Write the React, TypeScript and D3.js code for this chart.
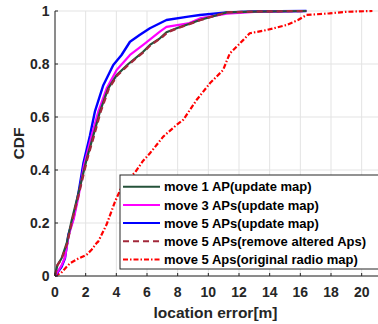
import React from "react";
import * as d3 from "d3";

const xTicks = [0, 2, 4, 6, 8, 10, 12, 14, 16, 18, 20];
const yTicks = [0, 0.2, 0.4, 0.6, 0.8, 1];

const blueX = [0, 0.43, 0.65, 0.87, 1.2, 1.52, 1.85, 2.28, 2.6, 3.15, 3.8, 4.34, 4.89, 5.54, 6.19, 7.27, 8.69, 9.45, 11.2, 13, 16.4];
const blueY = [0, 0.035, 0.067, 0.155, 0.218, 0.31, 0.425, 0.53, 0.62, 0.72, 0.796, 0.834, 0.884, 0.91, 0.935, 0.966, 0.979, 0.985, 0.995, 0.998, 1];

const magX = [0, 0.43, 0.65, 0.9, 1.22, 1.55, 1.9, 2.39, 2.82, 3.37, 4.02, 4.89, 5.75, 6.84, 7.27, 8.69, 9.45, 11.2, 13, 16.4];
const magY = [0, 0.04, 0.07, 0.155, 0.215, 0.305, 0.42, 0.53, 0.62, 0.708, 0.777, 0.834, 0.872, 0.922, 0.94, 0.953, 0.972, 0.99, 0.997, 1];

const greenX = [0, 0.15, 0.43, 0.76, 1.09, 1.52, 2.06, 2.5, 2.93, 3.47, 4.02, 4.78, 5.75, 6.19, 6.84, 7.27, 7.93, 8.69, 9.45, 11.2, 13, 16.4];
const greenY = [0, 0.04, 0.067, 0.123, 0.21, 0.31, 0.44, 0.53, 0.62, 0.708, 0.758, 0.8, 0.846, 0.872, 0.897, 0.92, 0.935, 0.95, 0.966, 0.995, 0.998, 1];

const brownX = [0, 0.15, 0.45, 0.8, 1.12, 1.56, 2.1, 2.55, 2.98, 3.52, 4.08, 4.85, 5.8, 6.25, 6.9, 7.35, 8.0, 8.75, 9.5, 11.2, 13, 16.4];
const brownY = [0, 0.04, 0.067, 0.123, 0.21, 0.31, 0.44, 0.53, 0.62, 0.708, 0.758, 0.8, 0.846, 0.872, 0.897, 0.92, 0.935, 0.95, 0.966, 0.995, 0.998, 1];

const redX = [0, 0.4, 0.76, 0.98, 1.5, 2.06, 2.4, 2.72, 2.82, 3.37, 3.91, 4.45, 5.21, 5.75, 6.19, 7.06, 7.93, 8.36, 9.23, 10.1, 10.53, 10.96, 11.4, 11.84, 12.27, 12.7, 13.79, 15.1, 15.85, 16.4, 17.9, 19.0, 20.7];
const redY = [0, 0.012, 0.035, 0.048, 0.065, 0.08, 0.1, 0.125, 0.13, 0.195, 0.28, 0.35, 0.39, 0.435, 0.463, 0.526, 0.57, 0.589, 0.664, 0.727, 0.752, 0.777, 0.84, 0.865, 0.89, 0.916, 0.928, 0.947, 0.966, 0.985, 0.991, 0.997, 1.0];

const seriesNames = [
  "move 1 AP(update map)",
  "move 3 APs(update map)",
  "move 5 APs(update map)",
  "move 5 APs(remove altered Aps)",
  "move 5 Aps(original radio map)",
];

const W = 378, H = 324;
const L = 55, R = 377, T = 11, B = 276;
const FONT = "'Liberation Sans', Arial, sans-serif";

export default function App() {
  const x = d3.scaleLinear().domain([0, 21]).range([L, R]);
  const y = d3.scaleLinear().domain([0, 1]).range([B, T]);
  const mk = (xs: number[], ys: number[]) =>
    d3.line<number>().x((_, i) => x(xs[i])).y((_, i) => y(ys[i]))(xs) || "";

  const series = [
    { d: mk(greenX, greenY), color: "#25523a", w: 2.2, dash: "" },
    { d: mk(magX, magY), color: "#ff00ff", w: 2.2, dash: "" },
    { d: mk(blueX, blueY), color: "#0000ff", w: 2.4, dash: "" },
    { d: mk(brownX, brownY), color: "#a2283a", w: 2.2, dash: "6,4" },
    { d: mk(redX, redY), color: "#ff0000", w: 2.2, dash: "5,2,1.5,2" },
  ];
  const drawOrder = [4, 2, 1, 0, 3];

  const legX = 120, legY = 175, rowH = 18.2;

  return (
    <svg width={W} height={H} style={{ position: "absolute", left: 0, top: 0, background: "#fff" }} fontFamily={FONT}>
      <rect x={0} y={0} width={W} height={H} fill="#fff" />
      {xTicks.map((t) => (
        <line key={"gx" + t} x1={x(t)} x2={x(t)} y1={T} y2={B} stroke="#e3e3e3" strokeWidth={1} />
      ))}
      {yTicks.map((t) => (
        <line key={"gy" + t} x1={L} x2={R + 2} y1={y(t)} y2={y(t)} stroke="#e3e3e3" strokeWidth={1} />
      ))}
      {drawOrder.map((i) => (
        <path key={"s" + i} d={series[i].d} fill="none" stroke={series[i].color} strokeWidth={series[i].w}
          strokeDasharray={series[i].dash || undefined} strokeLinejoin="round" />
      ))}
      <line x1={L} x2={L} y1={T} y2={B} stroke="#262626" strokeWidth={1} />
      <line x1={L} x2={R + 2} y1={B} y2={B} stroke="#262626" strokeWidth={1} />
      {xTicks.map((t) => (
        <g key={"tx" + t}>
          <line x1={x(t)} x2={x(t)} y1={B} y2={B - 3} stroke="#262626" />
          <text x={x(t)} y={297} textAnchor="middle" fontSize={14} fontWeight="bold" fill="#262626">{t}</text>
        </g>
      ))}
      {yTicks.map((t) => (
        <g key={"ty" + t}>
          <line x1={L} x2={L + 3} y1={y(t)} y2={y(t)} stroke="#262626" />
          <text x={49.5} y={y(t) + 5} textAnchor="end" fontSize={14} fontWeight="bold" fill="#262626">{t}</text>
        </g>
      ))}
      <text x={215.5} y={318} textAnchor="middle" fontSize={15.5} fontWeight="bold" fill="#262626">location error[m]</text>
      <text transform={`translate(23.5,${(T + B) / 2}) rotate(-90)`} textAnchor="middle" fontSize={15.5} fontWeight="bold" fill="#262626">CDF</text>
      <rect x={legX} y={legY} width={262} height={94} fill="#fff" stroke="#262626" strokeWidth={1} />
      {seriesNames.map((n, i) => {
        const cy = 186.7 + i * rowH;
        return (
          <g key={"l" + i}>
            <line x1={123} x2={160} y1={cy} y2={cy} stroke={series[i].color} strokeWidth={2}
              strokeDasharray={series[i].dash || undefined} />
            <text x={164} y={cy + 4.6} fontSize={13} fontWeight="bold" fill="#000">{n}</text>
          </g>
        );
      })}
    </svg>
  );
}
